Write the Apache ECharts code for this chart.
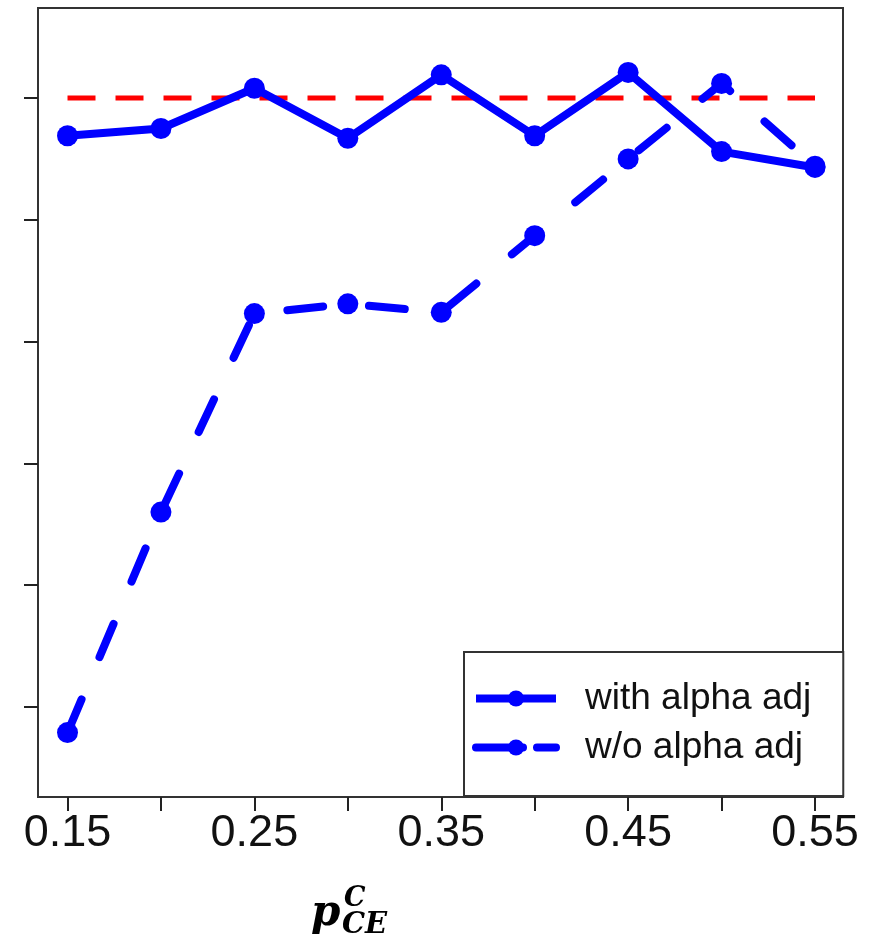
<!DOCTYPE html>
<html>
<head>
<meta charset="utf-8">
<script src="https://cdn.jsdelivr.net/npm/echarts@6/dist/echarts.min.js"></script>
<style>
  html, body { margin: 0; padding: 0; background: #fff; }
  #chart { width: 872px; height: 939px; }
</style>
</head>
<body>
<div id="chart"></div>
<script>
// x values (p_CE^C) and series, y in tick units (ticks hidden labels)
const xVals = [0.15, 0.20, 0.25, 0.30, 0.35, 0.40, 0.45, 0.50, 0.55];
const withAdj = [4.69, 4.75, 5.08, 4.67, 5.19, 4.69, 5.21, 4.56, 4.43];
const withoutAdj = [-0.21, 1.60, 3.23, 3.31, 3.24, 3.87, 4.50, 5.12, 4.44];
const nominalX = [0.15, 0.55];
const nominalY = 5;
const xTicks = [0.15, 0.20, 0.25, 0.30, 0.35, 0.40, 0.45, 0.50, 0.55];
const xLabels = [0.15, 0.25, 0.35, 0.45, 0.55];
const yTicks = [0, 1, 2, 3, 4, 5];

const chart = echarts.init(document.getElementById('chart'));

const blue = '#0000ff';
const dashPattern = [36, 46];

chart.setOption({
    animation: false,
    grid: {
        left: 38, top: 8, right: 29, bottom: 142,
        show: true, borderColor: '#333', borderWidth: 2
    },
    xAxis: {
        type: 'value',
        min: 0.13421, max: 0.56498,
        splitLine: { show: false },
        axisLine: { onZero: false, lineStyle: { color: '#333', width: 2 } },
        axisTick: { customValues: xTicks, length: 14, lineStyle: { color: '#222', width: 2 } },
        axisLabel: {
            customValues: xLabels,
            margin: 14,
            fontFamily: 'Liberation Sans',
            fontSize: 45,
            color: '#111',
            formatter: v => v.toFixed(2)
        }
    },
    yAxis: {
        type: 'value',
        min: -0.739, max: 5.739,
        splitLine: { show: false },
        axisLine: { show: true, onZero: false, lineStyle: { color: '#333', width: 2 } },
        axisTick: { customValues: yTicks, length: 14, lineStyle: { color: '#222', width: 2 } },
        axisLabel: { show: false }
    },
    legend: {
        data: [
            { name: 'with alpha adj', lineStyle: { width: 8, color: blue } },
            { name: 'w/o alpha adj', lineStyle: { width: 8, color: blue, type: [47, 14] } }
        ],
        orient: 'vertical',
        left: 464, top: 652,
        padding: [28, 32, 30, 8],
        itemWidth: 80, itemHeight: 20,
        itemGap: 12,
        borderColor: '#333', borderWidth: 2,
        backgroundColor: '#fff',
        itemStyle: { color: blue },
        textStyle: {
            fontFamily: 'Liberation Sans',
            fontSize: 37,
            color: '#111',
            padding: [0, 0, 0, 24]
        }
    },
    series: [
        {
            name: 'nominal',
            type: 'line',
            data: nominalX.map(x => [x, nominalY]),
            symbol: 'none',
            lineStyle: { color: '#ff0000', width: 5, type: [28, 20] },
            z: 1
        },
        {
            name: 'with alpha adj',
            type: 'line',
            data: xVals.map((x, i) => [x, withAdj[i]]),
            symbol: 'circle',
            symbolSize: 21,
            itemStyle: { color: blue },
            lineStyle: { color: blue, width: 8 },
            z: 3
        },
        {
            name: 'w/o alpha adj',
            type: 'line',
            data: xVals.map((x, i) => [x, withoutAdj[i]]),
            symbol: 'circle',
            symbolSize: 21,
            itemStyle: { color: blue },
            lineStyle: { color: blue, width: 8, type: dashPattern, cap: 'round' },
            z: 2
        }
    ],
    graphic: [
        {
            type: 'text', left: 311, top: 893,
            style: { text: 'p', font: 'bold italic 42px "DejaVu Serif"', fill: '#000' }
        },
        {
            type: 'text', left: 344, top: 885,
            style: { text: 'C', font: 'bold italic 27px "DejaVu Serif"', fill: '#000' }
        },
        {
            type: 'text', left: 342, top: 911,
            style: { text: 'CE', font: 'bold italic 29px "DejaVu Serif"', fill: '#000' }
        }
    ]
});
</script>
</body>
</html>
